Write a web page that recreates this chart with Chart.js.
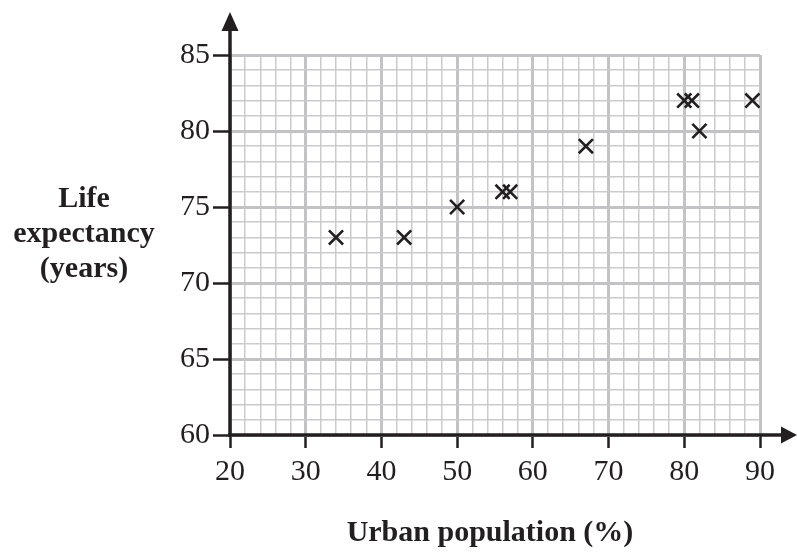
<!DOCTYPE html>
<html>
<head>
<meta charset="utf-8">
<script src="https://cdn.jsdelivr.net/npm/chart.js@4/dist/chart.umd.min.js"></script>
<style>
  html, body { margin: 0; padding: 0; background: #ffffff; }
  #wrap { position: relative; width: 797px; height: 554px; }
  canvas { position: absolute; left: 0; top: 0; }
  .title { position: absolute; font-family: "Liberation Serif", "Times New Roman", serif; font-weight: bold; font-size: 30px; color: #231f20; text-align: center; }
  #ytitle { left: 0; top: 179px; width: 168px; line-height: 35px; }
  #xtitle { left: 290px; top: 513px; width: 400px; line-height: 35px; }
</style>
</head>
<body>
<div id="wrap">
  <canvas id="c" width="797" height="554"></canvas>
  <div class="title" id="ytitle">Life<br>expectancy<br>(years)</div>
  <div class="title" id="xtitle">Urban population (%)</div>
</div>
<script>
// Data
const urbanPopulation = [34, 43, 50, 56, 57, 67, 80, 81, 82, 89];
const lifeExpectancy  = [73, 73, 75, 76, 76, 79, 82, 82, 80, 82];
const xTickLabels = [20, 30, 40, 50, 60, 70, 80, 90];
const yTickLabels = [60, 65, 70, 75, 80, 85];

const points = urbanPopulation.map((x, i) => ({ x: x, y: lifeExpectancy[i] }));

const INK = '#231f20';
const MAJOR = '#c3c3c5';
const MINOR = '#cbcbcd';

const axesPlugin = {
  id: 'axesArrows',
  afterDraw(chart) {
    const ctx = chart.ctx;
    const xs = chart.scales.x, ys = chart.scales.y;
    const x0 = xs.getPixelForValue(20);
    const y0 = ys.getPixelForValue(60);
    ctx.save();
    ctx.strokeStyle = INK;
    ctx.fillStyle = INK;
    ctx.lineWidth = 3.5;
    ctx.lineCap = 'butt';
    // y axis
    ctx.beginPath();
    ctx.moveTo(x0, y0 + 1.75);
    ctx.lineTo(x0, 28);
    ctx.stroke();
    // x axis
    ctx.beginPath();
    ctx.moveTo(x0 - 1.75, y0);
    ctx.lineTo(785, y0);
    ctx.stroke();
    // arrow heads
    ctx.beginPath();
    ctx.moveTo(x0, 12);
    ctx.lineTo(x0 - 8.5, 31);
    ctx.lineTo(x0 + 8.5, 31);
    ctx.closePath();
    ctx.fill();
    ctx.beginPath();
    ctx.moveTo(797, y0);
    ctx.lineTo(781, y0 - 8.5);
    ctx.lineTo(781, y0 + 8.5);
    ctx.closePath();
    ctx.fill();
    ctx.restore();
  }
};

new Chart(document.getElementById('c'), {
  type: 'scatter',
  data: {
    datasets: [{
      data: points,
      pointStyle: 'crossRot',
      radius: 10,
      hoverRadius: 10,
      borderWidth: 2.6,
      borderColor: INK,
      backgroundColor: INK
    }]
  },
  options: {
    responsive: false,
    animation: false,
    events: [],
    layout: { padding: { top: 55, right: 37, left: 0, bottom: 0 } },
    plugins: { legend: { display: false }, tooltip: { enabled: false } },
    scales: {
      x: {
        type: 'linear',
        min: 20, max: 90,
        afterFit: s => { s.height = 119; },
        border: { display: false },
        grid: {
          color: c => (c.tick && c.tick.value % 10 === 0) ? MAJOR : MINOR,
          lineWidth: c => (c.tick && c.tick.value % 10 === 0) ? 3 : 1.5,
          tickColor: c => (c.tick && xTickLabels.includes(c.tick.value)) ? INK : 'rgba(0,0,0,0)',
          tickWidth: 2.5,
          tickLength: 13
        },
        ticks: {
          stepSize: 2,
          autoSkip: false,
          maxRotation: 0,
          padding: 6,
          color: INK,
          font: { family: '"Liberation Serif", "Times New Roman", serif', size: 30 },
          callback: v => xTickLabels.includes(v) ? String(v) : ''
        }
      },
      y: {
        type: 'linear',
        min: 60, max: 85,
        afterFit: s => { s.width = 230; },
        border: { display: false },
        grid: {
          color: c => (c.tick && c.tick.value % 5 === 0) ? MAJOR : MINOR,
          lineWidth: c => (c.tick && c.tick.value % 5 === 0) ? 3 : 1.5,
          tickColor: c => (c.tick && yTickLabels.includes(c.tick.value)) ? INK : 'rgba(0,0,0,0)',
          tickWidth: 2.5,
          tickLength: 17
        },
        ticks: {
          stepSize: 1,
          autoSkip: false,
          padding: 3,
          color: INK,
          font: { family: '"Liberation Serif", "Times New Roman", serif', size: 30 },
          callback: v => yTickLabels.includes(v) ? String(v) : ''
        }
      }
    }
  },
  plugins: [axesPlugin]
});
</script>
</body>
</html>
